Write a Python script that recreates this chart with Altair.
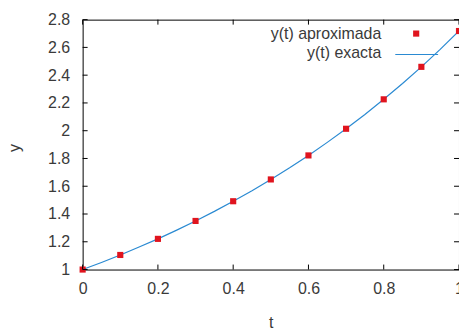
import altair as alt
import pandas as pd

# data
t_pts = [0.0, 0.1, 0.2, 0.3, 0.4, 0.5, 0.6, 0.7, 0.8, 0.9, 1.0]
y_aprox = [1.0, 1.105, 1.221, 1.350, 1.492, 1.649, 1.822, 2.014, 2.226, 2.460, 2.718]
t_line = [0.0, 0.05, 0.1, 0.15, 0.2, 0.25, 0.3, 0.35, 0.4, 0.45, 0.5,
          0.55, 0.6, 0.65, 0.7, 0.75, 0.8, 0.85, 0.9, 0.95, 1.0]
y_exacta = [1.0, 1.051, 1.105, 1.162, 1.221, 1.284, 1.350, 1.419, 1.492, 1.568, 1.649,
            1.733, 1.822, 1.916, 2.014, 2.117, 2.226, 2.340, 2.460, 2.586, 2.718]
x_ticks = [0.0, 0.2, 0.4, 0.6, 0.8, 1.0]
y_ticks = [1.0, 1.2, 1.4, 1.6, 1.8, 2.0, 2.2, 2.4, 2.6, 2.8]
legend_labels = ["y(t) aproximada", "y(t) exacta"]

W, H = 378, 251
FONT = "Liberation Sans"
FS = 16
TXT = "#3a3a3a"
RED = "#e0141e"
BLUE = "#2a8ad2"
PSIZE = 38

pts = pd.DataFrame({"t": t_pts, "y": y_aprox})
lin = pd.DataFrame({"t": t_line, "y": y_exacta})
xt = pd.DataFrame({"t": x_ticks})
yt = pd.DataFrame({"y": y_ticks})

xs = alt.Scale(domain=[0, 1], nice=False, zero=False)
ys = alt.Scale(domain=[1, 2.8], nice=False, zero=False)

x_axis = alt.Axis(values=x_ticks, grid=False, ticks=False, domain=False,
                  labelPadding=11, labelFontSize=FS, labelFont=FONT, labelColor=TXT,
                  format="~g", labelFlush=False, labelOverlap=False,
                  title="t", titleFont=FONT, titleFontSize=FS, titleFontWeight="normal",
                  titleColor=TXT, titleY=53, titleBaseline="middle")
y_axis = alt.Axis(values=y_ticks, grid=False, ticks=False, domain=False,
                  labelPadding=13, labelFontSize=FS, labelFont=FONT, labelColor=TXT,
                  format="~g", labelFlush=False, labelOverlap=False,
                  title="y", titleFont=FONT, titleFontSize=FS, titleFontWeight="normal",
                  titleColor=TXT, titleX=-68, titleY=H / 2 + 3, titleBaseline="middle",
                  titleAngle=270)

line = alt.Chart(lin).mark_line(color=BLUE, strokeWidth=1.2).encode(
    x=alt.X("t:Q", scale=xs, axis=x_axis),
    y=alt.Y("y:Q", scale=ys, axis=y_axis),
)
points = alt.Chart(pts).mark_point(shape="square", filled=True, color=RED, size=PSIZE, opacity=1).encode(
    x=alt.X("t:Q", scale=xs, axis=x_axis),
    y=alt.Y("y:Q", scale=ys, axis=y_axis),
)

tick_bottom = alt.Chart(xt).mark_rule(color="black").encode(
    x=alt.X("t:Q", scale=xs, axis=x_axis), y=alt.value(H), y2=alt.value(H - 5))
tick_top = alt.Chart(xt).mark_rule(color="black").encode(
    x=alt.X("t:Q", scale=xs, axis=x_axis), y=alt.value(0), y2=alt.value(5))
tick_left = alt.Chart(yt).mark_rule(color="black").encode(
    y=alt.Y("y:Q", scale=ys, axis=y_axis), x=alt.value(0), x2=alt.value(5))
tick_right = alt.Chart(yt).mark_rule(color="black").encode(
    y=alt.Y("y:Q", scale=ys, axis=y_axis), x=alt.value(W - 5), x2=alt.value(W))

leg = pd.DataFrame({"label": legend_labels})
leg_text1 = alt.Chart(leg.iloc[[0]]).mark_text(
    align="right", baseline="middle", font=FONT, fontSize=FS, color=TXT).encode(
    text="label:N", x=alt.value(300), y=alt.value(14))
leg_text2 = alt.Chart(leg.iloc[[1]]).mark_text(
    align="right", baseline="middle", font=FONT, fontSize=FS, color=TXT).encode(
    text="label:N", x=alt.value(300), y=alt.value(34))
leg_pt = alt.Chart(leg.iloc[[0]]).mark_point(shape="square", filled=True, color=RED, size=PSIZE, opacity=1).encode(
    x=alt.value(335), y=alt.value(14))
leg_line = alt.Chart(leg.iloc[[1]]).mark_rule(color=BLUE, strokeWidth=1.2).encode(
    x=alt.value(314), x2=alt.value(357), y=alt.value(35))

chart = alt.layer(
    line, points, tick_bottom, tick_top, tick_left, tick_right,
    leg_text1, leg_text2, leg_pt, leg_line
).properties(
    width=W, height=H,
    autosize=alt.AutoSizeParams(type="none"),
    padding={"left": 83, "top": 19, "right": 0, "bottom": 61},
    background="white",
).configure_view(stroke="black", strokeWidth=1).configure_axis(labelOverlap=False)

chart.save("out.html", embed_options={"renderer": "svg", "actions": False})
